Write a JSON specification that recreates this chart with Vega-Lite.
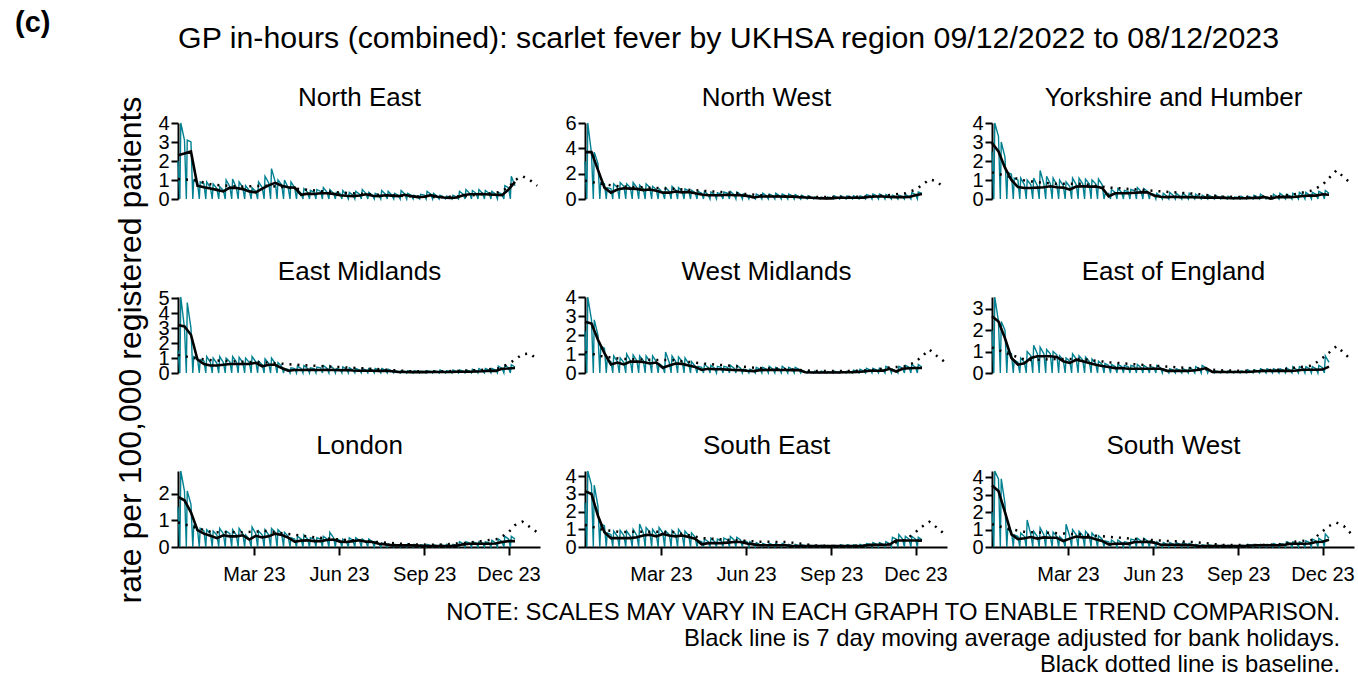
{"$schema":"https://vega.github.io/schema/vega-lite/v6.json","background":"white","padding":{"left":14,"top":8,"right":0,"bottom":0},
"config":{"view":{"stroke":null,"continuousWidth":362,"continuousHeight":76},"font":"Liberation Sans",
"axis":{"grid":false,"domainColor":"black","domainWidth":2,"tickColor":"black","tickWidth":2,"labelColor":"black","labelFontSize":20,"labelFont":"Liberation Sans","labelFlush":false},
"axisX":{"tickSize":8,"labelPadding":9},
"axisY":{"tickSize":7,"labelPadding":2,"tickCount":4,"tickMinStep":1,"labelOverlap":false,"titleAngle":0,"titleX":181,"titleY":-18,"titleAlign":"center","titleBaseline":"alphabetic","titleFontSize":26,"titleFontWeight":"normal","titleColor":"black","titleFont":"Liberation Sans"},
"title":{"color":"black","font":"Liberation Sans","fontWeight":"normal"}},
"data":{"format":{"parse":{"d":"date:'%y%m%d'"}},"values":[
{"r":"NE","d":"221209","v":2.0,"m":2.3},
{"r":"NE","d":"221211","v":0},{"r":"NE","d":"221212","v":4.0},{"r":"NE","d":"221216","v":3.1,"m":2.4},
{"r":"NE","d":"221218","v":0},{"r":"NE","d":"221219","v":3.1},{"r":"NE","d":"221223","v":3.0,"m":2.5},
{"r":"NE","d":"221225","v":0},{"r":"NE","d":"221226","v":1.0},{"r":"NE","d":"221230","v":0.9,"m":0.7},
{"r":"NE","d":"230101","v":0},{"r":"NE","d":"230102","v":0.9},{"r":"NE","d":"230106","v":0.8,"m":0.62},
{"r":"NE","d":"230108","v":0},{"r":"NE","d":"230109","v":0.9},{"r":"NE","d":"230113","v":0.6,"m":0.55},
{"r":"NE","d":"230115","v":0},{"r":"NE","d":"230116","v":0.8},{"r":"NE","d":"230120","v":0.55,"m":0.48},
{"r":"NE","d":"230122","v":0},{"r":"NE","d":"230123","v":0.65},{"r":"NE","d":"230127","v":0.45,"m":0.4},
{"r":"NE","d":"230129","v":0},{"r":"NE","d":"230130","v":1.0},{"r":"NE","d":"230203","v":0.65,"m":0.6},
{"r":"NE","d":"230205","v":0},{"r":"NE","d":"230206","v":1.05},{"r":"NE","d":"230210","v":0.6,"m":0.58},
{"r":"NE","d":"230212","v":0},{"r":"NE","d":"230213","v":0.9},{"r":"NE","d":"230217","v":0.6,"m":0.52},
{"r":"NE","d":"230219","v":0},{"r":"NE","d":"230220","v":0.7},{"r":"NE","d":"230224","v":0.45,"m":0.4},
{"r":"NE","d":"230226","v":0},{"r":"NE","d":"230227","v":0.6},{"r":"NE","d":"230303","v":0.4,"m":0.35},
{"r":"NE","d":"230305","v":0},{"r":"NE","d":"230306","v":0.9},{"r":"NE","d":"230310","v":0.6,"m":0.55},
{"r":"NE","d":"230312","v":0},{"r":"NE","d":"230313","v":1.2},{"r":"NE","d":"230317","v":0.85,"m":0.72},
{"r":"NE","d":"230319","v":0},{"r":"NE","d":"230320","v":1.6},{"r":"NE","d":"230324","v":0.9,"m":0.85},
{"r":"NE","d":"230326","v":0},{"r":"NE","d":"230327","v":1.0},{"r":"NE","d":"230331","v":0.75,"m":0.7},
{"r":"NE","d":"230402","v":0},{"r":"NE","d":"230403","v":1.0},{"r":"NE","d":"230407","v":0.6,"m":0.62},
{"r":"NE","d":"230409","v":0},{"r":"NE","d":"230410","v":0.9},{"r":"NE","d":"230414","v":0.6,"m":0.6},
{"r":"NE","d":"230416","v":0},{"r":"NE","d":"230417","v":0.5},{"r":"NE","d":"230421","v":0.3,"m":0.22},
{"r":"NE","d":"230423","v":0},{"r":"NE","d":"230424","v":0.55},{"r":"NE","d":"230428","v":0.35,"m":0.28},
{"r":"NE","d":"230430","v":0},{"r":"NE","d":"230501","v":0.45},{"r":"NE","d":"230505","v":0.35,"m":0.26},
{"r":"NE","d":"230507","v":0},{"r":"NE","d":"230508","v":0.5},{"r":"NE","d":"230512","v":0.4,"m":0.3},
{"r":"NE","d":"230514","v":0},{"r":"NE","d":"230515","v":0.6},{"r":"NE","d":"230519","v":0.35,"m":0.3},
{"r":"NE","d":"230521","v":0},{"r":"NE","d":"230522","v":0.5},{"r":"NE","d":"230526","v":0.3,"m":0.27},
{"r":"NE","d":"230528","v":0},{"r":"NE","d":"230529","v":0.35},{"r":"NE","d":"230602","v":0.3,"m":0.2},
{"r":"NE","d":"230604","v":0},{"r":"NE","d":"230605","v":0.45},{"r":"NE","d":"230609","v":0.2,"m":0.17},
{"r":"NE","d":"230611","v":0},{"r":"NE","d":"230612","v":0.35},{"r":"NE","d":"230616","v":0.2,"m":0.15},
{"r":"NE","d":"230618","v":0},{"r":"NE","d":"230619","v":0.4},{"r":"NE","d":"230623","v":0.25,"m":0.18},
{"r":"NE","d":"230625","v":0},{"r":"NE","d":"230626","v":0.5},{"r":"NE","d":"230630","v":0.3,"m":0.25},
{"r":"NE","d":"230702","v":0},{"r":"NE","d":"230703","v":0.35},{"r":"NE","d":"230707","v":0.2,"m":0.17},
{"r":"NE","d":"230709","v":0},{"r":"NE","d":"230710","v":0.3},{"r":"NE","d":"230714","v":0.2,"m":0.15},
{"r":"NE","d":"230716","v":0},{"r":"NE","d":"230717","v":0.45},{"r":"NE","d":"230721","v":0.25,"m":0.2},
{"r":"NE","d":"230723","v":0},{"r":"NE","d":"230724","v":0.4},{"r":"NE","d":"230728","v":0.2,"m":0.18},
{"r":"NE","d":"230730","v":0},{"r":"NE","d":"230731","v":0.3},{"r":"NE","d":"230804","v":0.2,"m":0.15},
{"r":"NE","d":"230806","v":0},{"r":"NE","d":"230807","v":0.45},{"r":"NE","d":"230811","v":0.25,"m":0.22},
{"r":"NE","d":"230813","v":0},{"r":"NE","d":"230814","v":0.3},{"r":"NE","d":"230818","v":0.2,"m":0.15},
{"r":"NE","d":"230820","v":0},{"r":"NE","d":"230821","v":0.2},{"r":"NE","d":"230825","v":0.1,"m":0.1},
{"r":"NE","d":"230827","v":0},{"r":"NE","d":"230828","v":0.25},{"r":"NE","d":"230901","v":0.2,"m":0.12},
{"r":"NE","d":"230903","v":0},{"r":"NE","d":"230904","v":0.4},{"r":"NE","d":"230908","v":0.25,"m":0.2},
{"r":"NE","d":"230910","v":0},{"r":"NE","d":"230911","v":0.3},{"r":"NE","d":"230915","v":0.15,"m":0.12},
{"r":"NE","d":"230917","v":0},{"r":"NE","d":"230918","v":0.2},{"r":"NE","d":"230922","v":0.1,"m":0.08},
{"r":"NE","d":"230924","v":0},{"r":"NE","d":"230925","v":0.15},{"r":"NE","d":"230929","v":0.1,"m":0.06},
{"r":"NE","d":"231001","v":0},{"r":"NE","d":"231002","v":0.2},{"r":"NE","d":"231006","v":0.1,"m":0.08},
{"r":"NE","d":"231008","v":0},{"r":"NE","d":"231009","v":0.4},{"r":"NE","d":"231013","v":0.25,"m":0.2},
{"r":"NE","d":"231015","v":0},{"r":"NE","d":"231016","v":0.5},{"r":"NE","d":"231020","v":0.3,"m":0.25},
{"r":"NE","d":"231022","v":0},{"r":"NE","d":"231023","v":0.45},{"r":"NE","d":"231027","v":0.3,"m":0.25},
{"r":"NE","d":"231029","v":0},{"r":"NE","d":"231030","v":0.5},{"r":"NE","d":"231103","v":0.3,"m":0.26},
{"r":"NE","d":"231105","v":0},{"r":"NE","d":"231106","v":0.45},{"r":"NE","d":"231110","v":0.3,"m":0.24},
{"r":"NE","d":"231112","v":0},{"r":"NE","d":"231113","v":0.4},{"r":"NE","d":"231117","v":0.25,"m":0.22},
{"r":"NE","d":"231119","v":0},{"r":"NE","d":"231120","v":0.35},{"r":"NE","d":"231124","v":0.25,"m":0.2},
{"r":"NE","d":"231126","v":0},{"r":"NE","d":"231127","v":0.7},{"r":"NE","d":"231201","v":0.6,"m":0.5},
{"r":"NE","d":"231203","v":0},{"r":"NE","d":"231204","v":1.2},{"r":"NE","d":"231208","v":0.7,"m":0.9},
{"r":"NW","d":"221209","v":3.0,"m":3.7},
{"r":"NW","d":"221211","v":0},{"r":"NW","d":"221212","v":6.0},{"r":"NW","d":"221216","v":3.6,"m":3.7},
{"r":"NW","d":"221218","v":0},{"r":"NW","d":"221219","v":3.7},{"r":"NW","d":"221223","v":2.8,"m":2.3},
{"r":"NW","d":"221225","v":0},{"r":"NW","d":"221226","v":1.3},{"r":"NW","d":"221230","v":1.2,"m":0.9},
{"r":"NW","d":"230101","v":0},{"r":"NW","d":"230102","v":0.9},{"r":"NW","d":"230106","v":0.8,"m":0.5},
{"r":"NW","d":"230108","v":0},{"r":"NW","d":"230109","v":1.2},{"r":"NW","d":"230113","v":0.9,"m":0.75},
{"r":"NW","d":"230115","v":0},{"r":"NW","d":"230116","v":1.3},{"r":"NW","d":"230120","v":1.0,"m":0.85},
{"r":"NW","d":"230122","v":0},{"r":"NW","d":"230123","v":1.2},{"r":"NW","d":"230127","v":0.9,"m":0.82},
{"r":"NW","d":"230129","v":0},{"r":"NW","d":"230130","v":1.3},{"r":"NW","d":"230203","v":0.9,"m":0.8},
{"r":"NW","d":"230205","v":0},{"r":"NW","d":"230206","v":1.1},{"r":"NW","d":"230210","v":0.8,"m":0.7},
{"r":"NW","d":"230212","v":0},{"r":"NW","d":"230213","v":1.2},{"r":"NW","d":"230217","v":0.9,"m":0.75},
{"r":"NW","d":"230219","v":0},{"r":"NW","d":"230220","v":1.0},{"r":"NW","d":"230224","v":0.75,"m":0.65},
{"r":"NW","d":"230226","v":0},{"r":"NW","d":"230227","v":0.8},{"r":"NW","d":"230303","v":0.5,"m":0.5},
{"r":"NW","d":"230305","v":0},{"r":"NW","d":"230306","v":0.9},{"r":"NW","d":"230310","v":0.6,"m":0.5},
{"r":"NW","d":"230312","v":0},{"r":"NW","d":"230313","v":1.0},{"r":"NW","d":"230317","v":0.7,"m":0.6},
{"r":"NW","d":"230319","v":0},{"r":"NW","d":"230320","v":0.9},{"r":"NW","d":"230324","v":0.6,"m":0.52},
{"r":"NW","d":"230326","v":0},{"r":"NW","d":"230327","v":0.8},{"r":"NW","d":"230331","v":0.65,"m":0.55},
{"r":"NW","d":"230402","v":0},{"r":"NW","d":"230403","v":0.7},{"r":"NW","d":"230407","v":0.5,"m":0.45},
{"r":"NW","d":"230409","v":0},{"r":"NW","d":"230410","v":0.6},{"r":"NW","d":"230414","v":0.45,"m":0.35},
{"r":"NW","d":"230416","v":0},{"r":"NW","d":"230417","v":0.6},{"r":"NW","d":"230421","v":0.35,"m":0.3},
{"r":"NW","d":"230423","v":0},{"r":"NW","d":"230424","v":0.55},{"r":"NW","d":"230428","v":0.35,"m":0.3},
{"r":"NW","d":"230430","v":0},{"r":"NW","d":"230501","v":0.5},{"r":"NW","d":"230505","v":0.4,"m":0.3},
{"r":"NW","d":"230507","v":0},{"r":"NW","d":"230508","v":0.55},{"r":"NW","d":"230512","v":0.45,"m":0.33},
{"r":"NW","d":"230514","v":0},{"r":"NW","d":"230515","v":0.6},{"r":"NW","d":"230519","v":0.35,"m":0.3},
{"r":"NW","d":"230521","v":0},{"r":"NW","d":"230522","v":0.55},{"r":"NW","d":"230526","v":0.35,"m":0.3},
{"r":"NW","d":"230528","v":0},{"r":"NW","d":"230529","v":0.4},{"r":"NW","d":"230602","v":0.3,"m":0.25},
{"r":"NW","d":"230604","v":0},{"r":"NW","d":"230605","v":0.3},{"r":"NW","d":"230609","v":0.15,"m":0.12},
{"r":"NW","d":"230611","v":0},{"r":"NW","d":"230612","v":0.4},{"r":"NW","d":"230616","v":0.25,"m":0.2},
{"r":"NW","d":"230618","v":0},{"r":"NW","d":"230619","v":0.45},{"r":"NW","d":"230623","v":0.25,"m":0.2},
{"r":"NW","d":"230625","v":0},{"r":"NW","d":"230626","v":0.4},{"r":"NW","d":"230630","v":0.25,"m":0.2},
{"r":"NW","d":"230702","v":0},{"r":"NW","d":"230703","v":0.45},{"r":"NW","d":"230707","v":0.25,"m":0.2},
{"r":"NW","d":"230709","v":0},{"r":"NW","d":"230710","v":0.4},{"r":"NW","d":"230714","v":0.25,"m":0.19},
{"r":"NW","d":"230716","v":0},{"r":"NW","d":"230717","v":0.4},{"r":"NW","d":"230721","v":0.25,"m":0.2},
{"r":"NW","d":"230723","v":0},{"r":"NW","d":"230724","v":0.35},{"r":"NW","d":"230728","v":0.2,"m":0.15},
{"r":"NW","d":"230730","v":0},{"r":"NW","d":"230731","v":0.3},{"r":"NW","d":"230804","v":0.15,"m":0.12},
{"r":"NW","d":"230806","v":0},{"r":"NW","d":"230807","v":0.25},{"r":"NW","d":"230811","v":0.12,"m":0.1},
{"r":"NW","d":"230813","v":0},{"r":"NW","d":"230814","v":0.15},{"r":"NW","d":"230818","v":0.08,"m":0.06},
{"r":"NW","d":"230820","v":0},{"r":"NW","d":"230821","v":0.15},{"r":"NW","d":"230825","v":0.08,"m":0.05},
{"r":"NW","d":"230827","v":0},{"r":"NW","d":"230828","v":0.15},{"r":"NW","d":"230901","v":0.1,"m":0.05},
{"r":"NW","d":"230903","v":0},{"r":"NW","d":"230904","v":0.25},{"r":"NW","d":"230908","v":0.12,"m":0.1},
{"r":"NW","d":"230910","v":0},{"r":"NW","d":"230911","v":0.25},{"r":"NW","d":"230915","v":0.12,"m":0.1},
{"r":"NW","d":"230917","v":0},{"r":"NW","d":"230918","v":0.25},{"r":"NW","d":"230922","v":0.15,"m":0.1},
{"r":"NW","d":"230924","v":0},{"r":"NW","d":"230925","v":0.25},{"r":"NW","d":"230929","v":0.12,"m":0.1},
{"r":"NW","d":"231001","v":0},{"r":"NW","d":"231002","v":0.25},{"r":"NW","d":"231006","v":0.15,"m":0.11},
{"r":"NW","d":"231008","v":0},{"r":"NW","d":"231009","v":0.35},{"r":"NW","d":"231013","v":0.25,"m":0.18},
{"r":"NW","d":"231015","v":0},{"r":"NW","d":"231016","v":0.4},{"r":"NW","d":"231020","v":0.25,"m":0.2},
{"r":"NW","d":"231022","v":0},{"r":"NW","d":"231023","v":0.4},{"r":"NW","d":"231027","v":0.25,"m":0.2},
{"r":"NW","d":"231029","v":0},{"r":"NW","d":"231030","v":0.35},{"r":"NW","d":"231103","v":0.2,"m":0.16},
{"r":"NW","d":"231105","v":0},{"r":"NW","d":"231106","v":0.3},{"r":"NW","d":"231110","v":0.2,"m":0.15},
{"r":"NW","d":"231112","v":0},{"r":"NW","d":"231113","v":0.3},{"r":"NW","d":"231117","v":0.2,"m":0.15},
{"r":"NW","d":"231119","v":0},{"r":"NW","d":"231120","v":0.35},{"r":"NW","d":"231124","v":0.2,"m":0.16},
{"r":"NW","d":"231126","v":0},{"r":"NW","d":"231127","v":0.5},{"r":"NW","d":"231201","v":0.35,"m":0.3},
{"r":"NW","d":"231203","v":0},{"r":"NW","d":"231204","v":0.55},{"r":"NW","d":"231208","v":0.45,"m":0.4},
{"r":"YH","d":"221209","v":2.5,"m":2.95},
{"r":"YH","d":"221211","v":0},{"r":"YH","d":"221212","v":4.0},{"r":"YH","d":"221216","v":3.3,"m":2.5},
{"r":"YH","d":"221218","v":0},{"r":"YH","d":"221219","v":3.0},{"r":"YH","d":"221223","v":2.2,"m":1.65},
{"r":"YH","d":"221225","v":0},{"r":"YH","d":"221226","v":1.4},{"r":"YH","d":"221230","v":1.3,"m":1.0},
{"r":"YH","d":"230101","v":0},{"r":"YH","d":"230102","v":1.1},{"r":"YH","d":"230106","v":1.0,"m":0.63},
{"r":"YH","d":"230108","v":0},{"r":"YH","d":"230109","v":1.1},{"r":"YH","d":"230113","v":0.75,"m":0.58},
{"r":"YH","d":"230115","v":0},{"r":"YH","d":"230116","v":1.0},{"r":"YH","d":"230120","v":0.75,"m":0.58},
{"r":"YH","d":"230122","v":0},{"r":"YH","d":"230123","v":1.1},{"r":"YH","d":"230127","v":0.7,"m":0.6},
{"r":"YH","d":"230129","v":0},{"r":"YH","d":"230130","v":1.5},{"r":"YH","d":"230203","v":0.8,"m":0.62},
{"r":"YH","d":"230205","v":0},{"r":"YH","d":"230206","v":1.2},{"r":"YH","d":"230210","v":0.8,"m":0.67},
{"r":"YH","d":"230212","v":0},{"r":"YH","d":"230213","v":1.1},{"r":"YH","d":"230217","v":0.75,"m":0.62},
{"r":"YH","d":"230219","v":0},{"r":"YH","d":"230220","v":1.0},{"r":"YH","d":"230224","v":0.7,"m":0.6},
{"r":"YH","d":"230226","v":0},{"r":"YH","d":"230227","v":0.9},{"r":"YH","d":"230303","v":0.65,"m":0.5},
{"r":"YH","d":"230305","v":0},{"r":"YH","d":"230306","v":1.1},{"r":"YH","d":"230310","v":0.75,"m":0.65},
{"r":"YH","d":"230312","v":0},{"r":"YH","d":"230313","v":1.1},{"r":"YH","d":"230317","v":0.8,"m":0.67},
{"r":"YH","d":"230319","v":0},{"r":"YH","d":"230320","v":1.05},{"r":"YH","d":"230324","v":0.8,"m":0.65},
{"r":"YH","d":"230326","v":0},{"r":"YH","d":"230327","v":1.0},{"r":"YH","d":"230331","v":0.8,"m":0.66},
{"r":"YH","d":"230402","v":0},{"r":"YH","d":"230403","v":1.05},{"r":"YH","d":"230407","v":0.75,"m":0.58},
{"r":"YH","d":"230409","v":0},{"r":"YH","d":"230410","v":0.25},{"r":"YH","d":"230414","v":0.3,"m":0.14},
{"r":"YH","d":"230416","v":0},{"r":"YH","d":"230417","v":0.5},{"r":"YH","d":"230421","v":0.35,"m":0.3},
{"r":"YH","d":"230423","v":0},{"r":"YH","d":"230424","v":0.55},{"r":"YH","d":"230428","v":0.35,"m":0.3},
{"r":"YH","d":"230430","v":0},{"r":"YH","d":"230501","v":0.45},{"r":"YH","d":"230505","v":0.4,"m":0.3},
{"r":"YH","d":"230507","v":0},{"r":"YH","d":"230508","v":0.5},{"r":"YH","d":"230512","v":0.45,"m":0.33},
{"r":"YH","d":"230514","v":0},{"r":"YH","d":"230515","v":0.6},{"r":"YH","d":"230519","v":0.4,"m":0.35},
{"r":"YH","d":"230521","v":0},{"r":"YH","d":"230522","v":0.55},{"r":"YH","d":"230526","v":0.4,"m":0.35},
{"r":"YH","d":"230528","v":0},{"r":"YH","d":"230529","v":0.3},{"r":"YH","d":"230602","v":0.25,"m":0.18},
{"r":"YH","d":"230604","v":0},{"r":"YH","d":"230605","v":0.3},{"r":"YH","d":"230609","v":0.15,"m":0.12},
{"r":"YH","d":"230611","v":0},{"r":"YH","d":"230612","v":0.3},{"r":"YH","d":"230616","v":0.15,"m":0.1},
{"r":"YH","d":"230618","v":0},{"r":"YH","d":"230619","v":0.35},{"r":"YH","d":"230623","v":0.18,"m":0.12},
{"r":"YH","d":"230625","v":0},{"r":"YH","d":"230626","v":0.3},{"r":"YH","d":"230630","v":0.15,"m":0.1},
{"r":"YH","d":"230702","v":0},{"r":"YH","d":"230703","v":0.3},{"r":"YH","d":"230707","v":0.15,"m":0.1},
{"r":"YH","d":"230709","v":0},{"r":"YH","d":"230710","v":0.3},{"r":"YH","d":"230714","v":0.15,"m":0.1},
{"r":"YH","d":"230716","v":0},{"r":"YH","d":"230717","v":0.25},{"r":"YH","d":"230721","v":0.12,"m":0.08},
{"r":"YH","d":"230723","v":0},{"r":"YH","d":"230724","v":0.2},{"r":"YH","d":"230728","v":0.1,"m":0.07},
{"r":"YH","d":"230730","v":0},{"r":"YH","d":"230731","v":0.2},{"r":"YH","d":"230804","v":0.1,"m":0.07},
{"r":"YH","d":"230806","v":0},{"r":"YH","d":"230807","v":0.2},{"r":"YH","d":"230811","v":0.1,"m":0.07},
{"r":"YH","d":"230813","v":0},{"r":"YH","d":"230814","v":0.15},{"r":"YH","d":"230818","v":0.08,"m":0.06},
{"r":"YH","d":"230820","v":0},{"r":"YH","d":"230821","v":0.15},{"r":"YH","d":"230825","v":0.06,"m":0.04},
{"r":"YH","d":"230827","v":0},{"r":"YH","d":"230828","v":0.1},{"r":"YH","d":"230901","v":0.08,"m":0.04},
{"r":"YH","d":"230903","v":0},{"r":"YH","d":"230904","v":0.15},{"r":"YH","d":"230908","v":0.06,"m":0.04},
{"r":"YH","d":"230910","v":0},{"r":"YH","d":"230911","v":0.15},{"r":"YH","d":"230915","v":0.08,"m":0.05},
{"r":"YH","d":"230917","v":0},{"r":"YH","d":"230918","v":0.2},{"r":"YH","d":"230922","v":0.1,"m":0.06},
{"r":"YH","d":"230924","v":0},{"r":"YH","d":"230925","v":0.25},{"r":"YH","d":"230929","v":0.12,"m":0.1},
{"r":"YH","d":"231001","v":0},{"r":"YH","d":"231002","v":0.1},{"r":"YH","d":"231006","v":0.05,"m":0.02},
{"r":"YH","d":"231008","v":0},{"r":"YH","d":"231009","v":0.25},{"r":"YH","d":"231013","v":0.12,"m":0.1},
{"r":"YH","d":"231015","v":0},{"r":"YH","d":"231016","v":0.3},{"r":"YH","d":"231020","v":0.15,"m":0.11},
{"r":"YH","d":"231022","v":0},{"r":"YH","d":"231023","v":0.25},{"r":"YH","d":"231027","v":0.15,"m":0.1},
{"r":"YH","d":"231029","v":0},{"r":"YH","d":"231030","v":0.3},{"r":"YH","d":"231103","v":0.15,"m":0.12},
{"r":"YH","d":"231105","v":0},{"r":"YH","d":"231106","v":0.35},{"r":"YH","d":"231110","v":0.2,"m":0.16},
{"r":"YH","d":"231112","v":0},{"r":"YH","d":"231113","v":0.35},{"r":"YH","d":"231117","v":0.2,"m":0.18},
{"r":"YH","d":"231119","v":0},{"r":"YH","d":"231120","v":0.35},{"r":"YH","d":"231124","v":0.25,"m":0.18},
{"r":"YH","d":"231126","v":0},{"r":"YH","d":"231127","v":0.4},{"r":"YH","d":"231201","v":0.3,"m":0.25},
{"r":"YH","d":"231203","v":0},{"r":"YH","d":"231204","v":0.45},{"r":"YH","d":"231208","v":0.3,"m":0.22},
{"r":"EM","d":"221209","v":1.5,"m":3.2},
{"r":"EM","d":"221211","v":0},{"r":"EM","d":"221212","v":5.07},{"r":"EM","d":"221216","v":3.0,"m":3.1},
{"r":"EM","d":"221218","v":0},{"r":"EM","d":"221219","v":4.7},{"r":"EM","d":"221223","v":3.0,"m":2.55},
{"r":"EM","d":"221225","v":0},{"r":"EM","d":"221226","v":1.1},{"r":"EM","d":"221230","v":1.0,"m":0.9},
{"r":"EM","d":"230101","v":0},{"r":"EM","d":"230102","v":0.9},{"r":"EM","d":"230106","v":0.8,"m":0.6},
{"r":"EM","d":"230108","v":0},{"r":"EM","d":"230109","v":1.1},{"r":"EM","d":"230113","v":0.7,"m":0.5},
{"r":"EM","d":"230115","v":0},{"r":"EM","d":"230116","v":1.0},{"r":"EM","d":"230120","v":0.65,"m":0.5},
{"r":"EM","d":"230122","v":0},{"r":"EM","d":"230123","v":1.1},{"r":"EM","d":"230127","v":0.7,"m":0.55},
{"r":"EM","d":"230129","v":0},{"r":"EM","d":"230130","v":1.0},{"r":"EM","d":"230203","v":0.75,"m":0.6},
{"r":"EM","d":"230205","v":0},{"r":"EM","d":"230206","v":1.1},{"r":"EM","d":"230210","v":0.75,"m":0.6},
{"r":"EM","d":"230212","v":0},{"r":"EM","d":"230213","v":1.05},{"r":"EM","d":"230217","v":0.7,"m":0.6},
{"r":"EM","d":"230219","v":0},{"r":"EM","d":"230220","v":1.0},{"r":"EM","d":"230224","v":0.7,"m":0.6},
{"r":"EM","d":"230226","v":0},{"r":"EM","d":"230227","v":1.1},{"r":"EM","d":"230303","v":0.75,"m":0.68},
{"r":"EM","d":"230305","v":0},{"r":"EM","d":"230306","v":0.8},{"r":"EM","d":"230310","v":0.55,"m":0.45},
{"r":"EM","d":"230312","v":0},{"r":"EM","d":"230313","v":0.95},{"r":"EM","d":"230317","v":0.65,"m":0.55},
{"r":"EM","d":"230319","v":0},{"r":"EM","d":"230320","v":1.0},{"r":"EM","d":"230324","v":0.65,"m":0.55},
{"r":"EM","d":"230326","v":0},{"r":"EM","d":"230327","v":0.7},{"r":"EM","d":"230331","v":0.45,"m":0.33},
{"r":"EM","d":"230402","v":0},{"r":"EM","d":"230403","v":0.3},{"r":"EM","d":"230407","v":0.25,"m":0.15},
{"r":"EM","d":"230409","v":0},{"r":"EM","d":"230410","v":0.35},{"r":"EM","d":"230414","v":0.3,"m":0.2},
{"r":"EM","d":"230416","v":0},{"r":"EM","d":"230417","v":0.45},{"r":"EM","d":"230421","v":0.3,"m":0.2},
{"r":"EM","d":"230423","v":0},{"r":"EM","d":"230424","v":0.5},{"r":"EM","d":"230428","v":0.3,"m":0.22},
{"r":"EM","d":"230430","v":0},{"r":"EM","d":"230501","v":0.35},{"r":"EM","d":"230505","v":0.3,"m":0.2},
{"r":"EM","d":"230507","v":0},{"r":"EM","d":"230508","v":0.4},{"r":"EM","d":"230512","v":0.35,"m":0.2},
{"r":"EM","d":"230514","v":0},{"r":"EM","d":"230515","v":0.5},{"r":"EM","d":"230519","v":0.3,"m":0.22},
{"r":"EM","d":"230521","v":0},{"r":"EM","d":"230522","v":0.5},{"r":"EM","d":"230526","v":0.3,"m":0.2},
{"r":"EM","d":"230528","v":0},{"r":"EM","d":"230529","v":0.3},{"r":"EM","d":"230602","v":0.25,"m":0.18},
{"r":"EM","d":"230604","v":0},{"r":"EM","d":"230605","v":0.4},{"r":"EM","d":"230609","v":0.25,"m":0.2},
{"r":"EM","d":"230611","v":0},{"r":"EM","d":"230612","v":0.35},{"r":"EM","d":"230616","v":0.2,"m":0.17},
{"r":"EM","d":"230618","v":0},{"r":"EM","d":"230619","v":0.3},{"r":"EM","d":"230623","v":0.2,"m":0.15},
{"r":"EM","d":"230625","v":0},{"r":"EM","d":"230626","v":0.3},{"r":"EM","d":"230630","v":0.2,"m":0.15},
{"r":"EM","d":"230702","v":0},{"r":"EM","d":"230703","v":0.3},{"r":"EM","d":"230707","v":0.2,"m":0.15},
{"r":"EM","d":"230709","v":0},{"r":"EM","d":"230710","v":0.3},{"r":"EM","d":"230714","v":0.2,"m":0.14},
{"r":"EM","d":"230716","v":0},{"r":"EM","d":"230717","v":0.3},{"r":"EM","d":"230721","v":0.2,"m":0.15},
{"r":"EM","d":"230723","v":0},{"r":"EM","d":"230724","v":0.25},{"r":"EM","d":"230728","v":0.15,"m":0.12},
{"r":"EM","d":"230730","v":0},{"r":"EM","d":"230731","v":0.15},{"r":"EM","d":"230804","v":0.1,"m":0.07},
{"r":"EM","d":"230806","v":0},{"r":"EM","d":"230807","v":0.15},{"r":"EM","d":"230811","v":0.1,"m":0.07},
{"r":"EM","d":"230813","v":0},{"r":"EM","d":"230814","v":0.15},{"r":"EM","d":"230818","v":0.1,"m":0.06},
{"r":"EM","d":"230820","v":0},{"r":"EM","d":"230821","v":0.15},{"r":"EM","d":"230825","v":0.1,"m":0.06},
{"r":"EM","d":"230827","v":0},{"r":"EM","d":"230828","v":0.12},{"r":"EM","d":"230901","v":0.1,"m":0.06},
{"r":"EM","d":"230903","v":0},{"r":"EM","d":"230904","v":0.15},{"r":"EM","d":"230908","v":0.1,"m":0.07},
{"r":"EM","d":"230910","v":0},{"r":"EM","d":"230911","v":0.15},{"r":"EM","d":"230915","v":0.1,"m":0.07},
{"r":"EM","d":"230917","v":0},{"r":"EM","d":"230918","v":0.2},{"r":"EM","d":"230922","v":0.1,"m":0.07},
{"r":"EM","d":"230924","v":0},{"r":"EM","d":"230925","v":0.15},{"r":"EM","d":"230929","v":0.1,"m":0.07},
{"r":"EM","d":"231001","v":0},{"r":"EM","d":"231002","v":0.2},{"r":"EM","d":"231006","v":0.1,"m":0.08},
{"r":"EM","d":"231008","v":0},{"r":"EM","d":"231009","v":0.2},{"r":"EM","d":"231013","v":0.12,"m":0.08},
{"r":"EM","d":"231015","v":0},{"r":"EM","d":"231016","v":0.2},{"r":"EM","d":"231020","v":0.12,"m":0.08},
{"r":"EM","d":"231022","v":0},{"r":"EM","d":"231023","v":0.25},{"r":"EM","d":"231027","v":0.15,"m":0.1},
{"r":"EM","d":"231029","v":0},{"r":"EM","d":"231030","v":0.3},{"r":"EM","d":"231103","v":0.15,"m":0.12},
{"r":"EM","d":"231105","v":0},{"r":"EM","d":"231106","v":0.3},{"r":"EM","d":"231110","v":0.2,"m":0.15},
{"r":"EM","d":"231112","v":0},{"r":"EM","d":"231113","v":0.3},{"r":"EM","d":"231117","v":0.2,"m":0.14},
{"r":"EM","d":"231119","v":0},{"r":"EM","d":"231120","v":0.45},{"r":"EM","d":"231124","v":0.3,"m":0.28},
{"r":"EM","d":"231126","v":0},{"r":"EM","d":"231127","v":0.5},{"r":"EM","d":"231201","v":0.35,"m":0.3},
{"r":"EM","d":"231203","v":0},{"r":"EM","d":"231204","v":0.55},{"r":"EM","d":"231208","v":0.4,"m":0.33},
{"r":"WM","d":"221209","v":2.2,"m":2.7},
{"r":"WM","d":"221211","v":0},{"r":"WM","d":"221212","v":4.0},{"r":"WM","d":"221216","v":2.8,"m":2.6},
{"r":"WM","d":"221218","v":0},{"r":"WM","d":"221219","v":2.8},{"r":"WM","d":"221223","v":2.0,"m":1.75},
{"r":"WM","d":"221225","v":0},{"r":"WM","d":"221226","v":1.4},{"r":"WM","d":"221230","v":1.3,"m":1.05},
{"r":"WM","d":"230101","v":0},{"r":"WM","d":"230102","v":0.7},{"r":"WM","d":"230106","v":0.6,"m":0.45},
{"r":"WM","d":"230108","v":0},{"r":"WM","d":"230109","v":0.9},{"r":"WM","d":"230113","v":0.6,"m":0.55},
{"r":"WM","d":"230115","v":0},{"r":"WM","d":"230116","v":0.8},{"r":"WM","d":"230120","v":0.55,"m":0.45},
{"r":"WM","d":"230122","v":0},{"r":"WM","d":"230123","v":1.0},{"r":"WM","d":"230127","v":0.65,"m":0.6},
{"r":"WM","d":"230129","v":0},{"r":"WM","d":"230130","v":0.95},{"r":"WM","d":"230203","v":0.65,"m":0.6},
{"r":"WM","d":"230205","v":0},{"r":"WM","d":"230206","v":0.9},{"r":"WM","d":"230210","v":0.65,"m":0.58},
{"r":"WM","d":"230212","v":0},{"r":"WM","d":"230213","v":0.9},{"r":"WM","d":"230217","v":0.6,"m":0.5},
{"r":"WM","d":"230219","v":0},{"r":"WM","d":"230220","v":0.9},{"r":"WM","d":"230224","v":0.6,"m":0.55},
{"r":"WM","d":"230226","v":0},{"r":"WM","d":"230227","v":0.5},{"r":"WM","d":"230303","v":0.35,"m":0.28},
{"r":"WM","d":"230305","v":0},{"r":"WM","d":"230306","v":1.1},{"r":"WM","d":"230310","v":0.55,"m":0.4},
{"r":"WM","d":"230312","v":0},{"r":"WM","d":"230313","v":0.9},{"r":"WM","d":"230317","v":0.6,"m":0.5},
{"r":"WM","d":"230319","v":0},{"r":"WM","d":"230320","v":0.85},{"r":"WM","d":"230324","v":0.6,"m":0.48},
{"r":"WM","d":"230326","v":0},{"r":"WM","d":"230327","v":0.8},{"r":"WM","d":"230331","v":0.5,"m":0.4},
{"r":"WM","d":"230402","v":0},{"r":"WM","d":"230403","v":0.6},{"r":"WM","d":"230407","v":0.35,"m":0.32},
{"r":"WM","d":"230409","v":0},{"r":"WM","d":"230410","v":0.35},{"r":"WM","d":"230414","v":0.3,"m":0.16},
{"r":"WM","d":"230416","v":0},{"r":"WM","d":"230417","v":0.45},{"r":"WM","d":"230421","v":0.3,"m":0.22},
{"r":"WM","d":"230423","v":0},{"r":"WM","d":"230424","v":0.4},{"r":"WM","d":"230428","v":0.25,"m":0.2},
{"r":"WM","d":"230430","v":0},{"r":"WM","d":"230501","v":0.35},{"r":"WM","d":"230505","v":0.3,"m":0.2},
{"r":"WM","d":"230507","v":0},{"r":"WM","d":"230508","v":0.35},{"r":"WM","d":"230512","v":0.3,"m":0.18},
{"r":"WM","d":"230514","v":0},{"r":"WM","d":"230515","v":0.4},{"r":"WM","d":"230519","v":0.25,"m":0.16},
{"r":"WM","d":"230521","v":0},{"r":"WM","d":"230522","v":0.4},{"r":"WM","d":"230526","v":0.25,"m":0.15},
{"r":"WM","d":"230528","v":0},{"r":"WM","d":"230529","v":0.2},{"r":"WM","d":"230602","v":0.15,"m":0.12},
{"r":"WM","d":"230604","v":0},{"r":"WM","d":"230605","v":0.2},{"r":"WM","d":"230609","v":0.12,"m":0.1},
{"r":"WM","d":"230611","v":0},{"r":"WM","d":"230612","v":0.3},{"r":"WM","d":"230616","v":0.2,"m":0.15},
{"r":"WM","d":"230618","v":0},{"r":"WM","d":"230619","v":0.3},{"r":"WM","d":"230623","v":0.2,"m":0.16},
{"r":"WM","d":"230625","v":0},{"r":"WM","d":"230626","v":0.35},{"r":"WM","d":"230630","v":0.2,"m":0.17},
{"r":"WM","d":"230702","v":0},{"r":"WM","d":"230703","v":0.3},{"r":"WM","d":"230707","v":0.2,"m":0.16},
{"r":"WM","d":"230709","v":0},{"r":"WM","d":"230710","v":0.35},{"r":"WM","d":"230714","v":0.2,"m":0.16},
{"r":"WM","d":"230716","v":0},{"r":"WM","d":"230717","v":0.3},{"r":"WM","d":"230721","v":0.2,"m":0.15},
{"r":"WM","d":"230723","v":0},{"r":"WM","d":"230724","v":0.3},{"r":"WM","d":"230728","v":0.2,"m":0.16},
{"r":"WM","d":"230730","v":0},{"r":"WM","d":"230731","v":0.15},{"r":"WM","d":"230804","v":0.06,"m":0.04},
{"r":"WM","d":"230806","v":0},{"r":"WM","d":"230807","v":0.1},{"r":"WM","d":"230811","v":0.05,"m":0.03},
{"r":"WM","d":"230813","v":0},{"r":"WM","d":"230814","v":0.1},{"r":"WM","d":"230818","v":0.05,"m":0.03},
{"r":"WM","d":"230820","v":0},{"r":"WM","d":"230821","v":0.1},{"r":"WM","d":"230825","v":0.05,"m":0.03},
{"r":"WM","d":"230827","v":0},{"r":"WM","d":"230828","v":0.08},{"r":"WM","d":"230901","v":0.05,"m":0.03},
{"r":"WM","d":"230903","v":0},{"r":"WM","d":"230904","v":0.1},{"r":"WM","d":"230908","v":0.05,"m":0.03},
{"r":"WM","d":"230910","v":0},{"r":"WM","d":"230911","v":0.1},{"r":"WM","d":"230915","v":0.05,"m":0.04},
{"r":"WM","d":"230917","v":0},{"r":"WM","d":"230918","v":0.1},{"r":"WM","d":"230922","v":0.05,"m":0.04},
{"r":"WM","d":"230924","v":0},{"r":"WM","d":"230925","v":0.15},{"r":"WM","d":"230929","v":0.08,"m":0.06},
{"r":"WM","d":"231001","v":0},{"r":"WM","d":"231002","v":0.2},{"r":"WM","d":"231006","v":0.1,"m":0.08},
{"r":"WM","d":"231008","v":0},{"r":"WM","d":"231009","v":0.25},{"r":"WM","d":"231013","v":0.15,"m":0.12},
{"r":"WM","d":"231015","v":0},{"r":"WM","d":"231016","v":0.25},{"r":"WM","d":"231020","v":0.15,"m":0.12},
{"r":"WM","d":"231022","v":0},{"r":"WM","d":"231023","v":0.25},{"r":"WM","d":"231027","v":0.15,"m":0.12},
{"r":"WM","d":"231029","v":0},{"r":"WM","d":"231030","v":0.35},{"r":"WM","d":"231103","v":0.25,"m":0.22},
{"r":"WM","d":"231105","v":0},{"r":"WM","d":"231106","v":0.2},{"r":"WM","d":"231110","v":0.12,"m":0.08},
{"r":"WM","d":"231112","v":0},{"r":"WM","d":"231113","v":0.35},{"r":"WM","d":"231117","v":0.25,"m":0.22},
{"r":"WM","d":"231119","v":0},{"r":"WM","d":"231120","v":0.4},{"r":"WM","d":"231124","v":0.3,"m":0.25},
{"r":"WM","d":"231126","v":0},{"r":"WM","d":"231127","v":0.45},{"r":"WM","d":"231201","v":0.3,"m":0.26},
{"r":"WM","d":"231203","v":0},{"r":"WM","d":"231204","v":0.45},{"r":"WM","d":"231208","v":0.3,"m":0.26},
{"r":"EE","d":"221209","v":2.0,"m":2.65},
{"r":"EE","d":"221211","v":0},{"r":"EE","d":"221212","v":3.55},{"r":"EE","d":"221216","v":2.4,"m":2.4},
{"r":"EE","d":"221218","v":0},{"r":"EE","d":"221219","v":2.4},{"r":"EE","d":"221223","v":2.0,"m":1.63},
{"r":"EE","d":"221225","v":0},{"r":"EE","d":"221226","v":1.0},{"r":"EE","d":"221230","v":0.9,"m":0.7},
{"r":"EE","d":"230101","v":0},{"r":"EE","d":"230102","v":0.6},{"r":"EE","d":"230106","v":0.5,"m":0.39},
{"r":"EE","d":"230108","v":0},{"r":"EE","d":"230109","v":0.7},{"r":"EE","d":"230113","v":0.5,"m":0.45},
{"r":"EE","d":"230115","v":0},{"r":"EE","d":"230116","v":1.0},{"r":"EE","d":"230120","v":0.8,"m":0.7},
{"r":"EE","d":"230122","v":0},{"r":"EE","d":"230123","v":1.3},{"r":"EE","d":"230127","v":0.9,"m":0.78},
{"r":"EE","d":"230129","v":0},{"r":"EE","d":"230130","v":1.2},{"r":"EE","d":"230203","v":0.9,"m":0.78},
{"r":"EE","d":"230205","v":0},{"r":"EE","d":"230206","v":1.1},{"r":"EE","d":"230210","v":0.9,"m":0.78},
{"r":"EE","d":"230212","v":0},{"r":"EE","d":"230213","v":1.0},{"r":"EE","d":"230217","v":0.85,"m":0.75},
{"r":"EE","d":"230219","v":0},{"r":"EE","d":"230220","v":0.8},{"r":"EE","d":"230224","v":0.6,"m":0.55},
{"r":"EE","d":"230226","v":0},{"r":"EE","d":"230227","v":0.7},{"r":"EE","d":"230303","v":0.55,"m":0.47},
{"r":"EE","d":"230305","v":0},{"r":"EE","d":"230306","v":0.9},{"r":"EE","d":"230310","v":0.65,"m":0.62},
{"r":"EE","d":"230312","v":0},{"r":"EE","d":"230313","v":0.8},{"r":"EE","d":"230317","v":0.6,"m":0.55},
{"r":"EE","d":"230319","v":0},{"r":"EE","d":"230320","v":0.75},{"r":"EE","d":"230324","v":0.55,"m":0.47},
{"r":"EE","d":"230326","v":0},{"r":"EE","d":"230327","v":0.65},{"r":"EE","d":"230331","v":0.45,"m":0.39},
{"r":"EE","d":"230402","v":0},{"r":"EE","d":"230403","v":0.55},{"r":"EE","d":"230407","v":0.4,"m":0.33},
{"r":"EE","d":"230409","v":0},{"r":"EE","d":"230410","v":0.45},{"r":"EE","d":"230414","v":0.35,"m":0.28},
{"r":"EE","d":"230416","v":0},{"r":"EE","d":"230417","v":0.4},{"r":"EE","d":"230421","v":0.3,"m":0.23},
{"r":"EE","d":"230423","v":0},{"r":"EE","d":"230424","v":0.4},{"r":"EE","d":"230428","v":0.3,"m":0.23},
{"r":"EE","d":"230430","v":0},{"r":"EE","d":"230501","v":0.35},{"r":"EE","d":"230505","v":0.3,"m":0.2},
{"r":"EE","d":"230507","v":0},{"r":"EE","d":"230508","v":0.35},{"r":"EE","d":"230512","v":0.3,"m":0.2},
{"r":"EE","d":"230514","v":0},{"r":"EE","d":"230515","v":0.4},{"r":"EE","d":"230519","v":0.25,"m":0.2},
{"r":"EE","d":"230521","v":0},{"r":"EE","d":"230522","v":0.35},{"r":"EE","d":"230526","v":0.25,"m":0.2},
{"r":"EE","d":"230528","v":0},{"r":"EE","d":"230529","v":0.3},{"r":"EE","d":"230602","v":0.25,"m":0.2},
{"r":"EE","d":"230604","v":0},{"r":"EE","d":"230605","v":0.35},{"r":"EE","d":"230609","v":0.25,"m":0.2},
{"r":"EE","d":"230611","v":0},{"r":"EE","d":"230612","v":0.2},{"r":"EE","d":"230616","v":0.12,"m":0.1},
{"r":"EE","d":"230618","v":0},{"r":"EE","d":"230619","v":0.2},{"r":"EE","d":"230623","v":0.12,"m":0.1},
{"r":"EE","d":"230625","v":0},{"r":"EE","d":"230626","v":0.2},{"r":"EE","d":"230630","v":0.12,"m":0.1},
{"r":"EE","d":"230702","v":0},{"r":"EE","d":"230703","v":0.2},{"r":"EE","d":"230707","v":0.12,"m":0.1},
{"r":"EE","d":"230709","v":0},{"r":"EE","d":"230710","v":0.25},{"r":"EE","d":"230714","v":0.15,"m":0.12},
{"r":"EE","d":"230716","v":0},{"r":"EE","d":"230717","v":0.3},{"r":"EE","d":"230721","v":0.2,"m":0.15},
{"r":"EE","d":"230723","v":0},{"r":"EE","d":"230724","v":0.35},{"r":"EE","d":"230728","v":0.25,"m":0.23},
{"r":"EE","d":"230730","v":0},{"r":"EE","d":"230731","v":0.15},{"r":"EE","d":"230804","v":0.06,"m":0.05},
{"r":"EE","d":"230806","v":0},{"r":"EE","d":"230807","v":0.1},{"r":"EE","d":"230811","v":0.06,"m":0.05},
{"r":"EE","d":"230813","v":0},{"r":"EE","d":"230814","v":0.1},{"r":"EE","d":"230818","v":0.06,"m":0.05},
{"r":"EE","d":"230820","v":0},{"r":"EE","d":"230821","v":0.1},{"r":"EE","d":"230825","v":0.06,"m":0.05},
{"r":"EE","d":"230827","v":0},{"r":"EE","d":"230828","v":0.08},{"r":"EE","d":"230901","v":0.06,"m":0.05},
{"r":"EE","d":"230903","v":0},{"r":"EE","d":"230904","v":0.1},{"r":"EE","d":"230908","v":0.05,"m":0.05},
{"r":"EE","d":"230910","v":0},{"r":"EE","d":"230911","v":0.15},{"r":"EE","d":"230915","v":0.08,"m":0.06},
{"r":"EE","d":"230917","v":0},{"r":"EE","d":"230918","v":0.15},{"r":"EE","d":"230922","v":0.1,"m":0.08},
{"r":"EE","d":"230924","v":0},{"r":"EE","d":"230925","v":0.2},{"r":"EE","d":"230929","v":0.12,"m":0.1},
{"r":"EE","d":"231001","v":0},{"r":"EE","d":"231002","v":0.2},{"r":"EE","d":"231006","v":0.12,"m":0.1},
{"r":"EE","d":"231008","v":0},{"r":"EE","d":"231009","v":0.2},{"r":"EE","d":"231013","v":0.12,"m":0.1},
{"r":"EE","d":"231015","v":0},{"r":"EE","d":"231016","v":0.2},{"r":"EE","d":"231020","v":0.12,"m":0.1},
{"r":"EE","d":"231022","v":0},{"r":"EE","d":"231023","v":0.25},{"r":"EE","d":"231027","v":0.12,"m":0.1},
{"r":"EE","d":"231029","v":0},{"r":"EE","d":"231030","v":0.3},{"r":"EE","d":"231103","v":0.15,"m":0.12},
{"r":"EE","d":"231105","v":0},{"r":"EE","d":"231106","v":0.3},{"r":"EE","d":"231110","v":0.2,"m":0.15},
{"r":"EE","d":"231112","v":0},{"r":"EE","d":"231113","v":0.3},{"r":"EE","d":"231117","v":0.2,"m":0.15},
{"r":"EE","d":"231119","v":0},{"r":"EE","d":"231120","v":0.3},{"r":"EE","d":"231124","v":0.2,"m":0.15},
{"r":"EE","d":"231126","v":0},{"r":"EE","d":"231127","v":0.35},{"r":"EE","d":"231201","v":0.25,"m":0.16},
{"r":"EE","d":"231203","v":0},{"r":"EE","d":"231204","v":0.8},{"r":"EE","d":"231208","v":0.5,"m":0.3},
{"r":"L","d":"221209","v":1.5,"m":1.88},
{"r":"L","d":"221211","v":0},{"r":"L","d":"221212","v":2.85},{"r":"L","d":"221216","v":2.1,"m":1.75},
{"r":"L","d":"221218","v":0},{"r":"L","d":"221219","v":2.1},{"r":"L","d":"221223","v":1.6,"m":1.3},
{"r":"L","d":"221225","v":0},{"r":"L","d":"221226","v":0.8},{"r":"L","d":"221230","v":0.7,"m":0.63},
{"r":"L","d":"230101","v":0},{"r":"L","d":"230102","v":0.7},{"r":"L","d":"230106","v":0.6,"m":0.5},
{"r":"L","d":"230108","v":0},{"r":"L","d":"230109","v":0.65},{"r":"L","d":"230113","v":0.5,"m":0.42},
{"r":"L","d":"230115","v":0},{"r":"L","d":"230116","v":0.6},{"r":"L","d":"230120","v":0.45,"m":0.33},
{"r":"L","d":"230122","v":0},{"r":"L","d":"230123","v":0.7},{"r":"L","d":"230127","v":0.5,"m":0.44},
{"r":"L","d":"230129","v":0},{"r":"L","d":"230130","v":0.6},{"r":"L","d":"230203","v":0.5,"m":0.4},
{"r":"L","d":"230205","v":0},{"r":"L","d":"230206","v":0.65},{"r":"L","d":"230210","v":0.45,"m":0.4},
{"r":"L","d":"230212","v":0},{"r":"L","d":"230213","v":0.7},{"r":"L","d":"230217","v":0.5,"m":0.44},
{"r":"L","d":"230219","v":0},{"r":"L","d":"230220","v":0.45},{"r":"L","d":"230224","v":0.3,"m":0.28},
{"r":"L","d":"230226","v":0},{"r":"L","d":"230227","v":0.75},{"r":"L","d":"230303","v":0.5,"m":0.42},
{"r":"L","d":"230305","v":0},{"r":"L","d":"230306","v":0.6},{"r":"L","d":"230310","v":0.45,"m":0.36},
{"r":"L","d":"230312","v":0},{"r":"L","d":"230313","v":0.65},{"r":"L","d":"230317","v":0.45,"m":0.4},
{"r":"L","d":"230319","v":0},{"r":"L","d":"230320","v":0.7},{"r":"L","d":"230324","v":0.55,"m":0.5},
{"r":"L","d":"230326","v":0},{"r":"L","d":"230327","v":0.65},{"r":"L","d":"230331","v":0.5,"m":0.45},
{"r":"L","d":"230402","v":0},{"r":"L","d":"230403","v":0.55},{"r":"L","d":"230407","v":0.4,"m":0.35},
{"r":"L","d":"230409","v":0},{"r":"L","d":"230410","v":0.35},{"r":"L","d":"230414","v":0.3,"m":0.2},
{"r":"L","d":"230416","v":0},{"r":"L","d":"230417","v":0.4},{"r":"L","d":"230421","v":0.3,"m":0.24},
{"r":"L","d":"230423","v":0},{"r":"L","d":"230424","v":0.45},{"r":"L","d":"230428","v":0.3,"m":0.25},
{"r":"L","d":"230430","v":0},{"r":"L","d":"230501","v":0.35},{"r":"L","d":"230505","v":0.3,"m":0.22},
{"r":"L","d":"230507","v":0},{"r":"L","d":"230508","v":0.35},{"r":"L","d":"230512","v":0.3,"m":0.22},
{"r":"L","d":"230514","v":0},{"r":"L","d":"230515","v":0.4},{"r":"L","d":"230519","v":0.3,"m":0.26},
{"r":"L","d":"230521","v":0},{"r":"L","d":"230522","v":0.55},{"r":"L","d":"230526","v":0.35,"m":0.28},
{"r":"L","d":"230528","v":0},{"r":"L","d":"230529","v":0.3},{"r":"L","d":"230602","v":0.25,"m":0.2},
{"r":"L","d":"230604","v":0},{"r":"L","d":"230605","v":0.3},{"r":"L","d":"230609","v":0.2,"m":0.19},
{"r":"L","d":"230611","v":0},{"r":"L","d":"230612","v":0.35},{"r":"L","d":"230616","v":0.25,"m":0.22},
{"r":"L","d":"230618","v":0},{"r":"L","d":"230619","v":0.35},{"r":"L","d":"230623","v":0.25,"m":0.25},
{"r":"L","d":"230625","v":0},{"r":"L","d":"230626","v":0.3},{"r":"L","d":"230630","v":0.2,"m":0.2},
{"r":"L","d":"230702","v":0},{"r":"L","d":"230703","v":0.3},{"r":"L","d":"230707","v":0.2,"m":0.19},
{"r":"L","d":"230709","v":0},{"r":"L","d":"230710","v":0.2},{"r":"L","d":"230714","v":0.12,"m":0.12},
{"r":"L","d":"230716","v":0},{"r":"L","d":"230717","v":0.15},{"r":"L","d":"230721","v":0.1,"m":0.1},
{"r":"L","d":"230723","v":0},{"r":"L","d":"230724","v":0.12},{"r":"L","d":"230728","v":0.07,"m":0.06},
{"r":"L","d":"230730","v":0},{"r":"L","d":"230731","v":0.1},{"r":"L","d":"230804","v":0.07,"m":0.06},
{"r":"L","d":"230806","v":0},{"r":"L","d":"230807","v":0.1},{"r":"L","d":"230811","v":0.07,"m":0.06},
{"r":"L","d":"230813","v":0},{"r":"L","d":"230814","v":0.12},{"r":"L","d":"230818","v":0.07,"m":0.06},
{"r":"L","d":"230820","v":0},{"r":"L","d":"230821","v":0.1},{"r":"L","d":"230825","v":0.06,"m":0.05},
{"r":"L","d":"230827","v":0},{"r":"L","d":"230828","v":0.08},{"r":"L","d":"230901","v":0.06,"m":0.04},
{"r":"L","d":"230903","v":0},{"r":"L","d":"230904","v":0.1},{"r":"L","d":"230908","v":0.05,"m":0.04},
{"r":"L","d":"230910","v":0},{"r":"L","d":"230911","v":0.08},{"r":"L","d":"230915","v":0.05,"m":0.04},
{"r":"L","d":"230917","v":0},{"r":"L","d":"230918","v":0.1},{"r":"L","d":"230922","v":0.05,"m":0.04},
{"r":"L","d":"230924","v":0},{"r":"L","d":"230925","v":0.1},{"r":"L","d":"230929","v":0.05,"m":0.04},
{"r":"L","d":"231001","v":0},{"r":"L","d":"231002","v":0.1},{"r":"L","d":"231006","v":0.06,"m":0.05},
{"r":"L","d":"231008","v":0},{"r":"L","d":"231009","v":0.2},{"r":"L","d":"231013","v":0.12,"m":0.1},
{"r":"L","d":"231015","v":0},{"r":"L","d":"231016","v":0.2},{"r":"L","d":"231020","v":0.15,"m":0.12},
{"r":"L","d":"231022","v":0},{"r":"L","d":"231023","v":0.2},{"r":"L","d":"231027","v":0.15,"m":0.12},
{"r":"L","d":"231029","v":0},{"r":"L","d":"231030","v":0.2},{"r":"L","d":"231103","v":0.15,"m":0.12},
{"r":"L","d":"231105","v":0},{"r":"L","d":"231106","v":0.2},{"r":"L","d":"231110","v":0.15,"m":0.12},
{"r":"L","d":"231112","v":0},{"r":"L","d":"231113","v":0.25},{"r":"L","d":"231117","v":0.15,"m":0.13},
{"r":"L","d":"231119","v":0},{"r":"L","d":"231120","v":0.3},{"r":"L","d":"231124","v":0.2,"m":0.19},
{"r":"L","d":"231126","v":0},{"r":"L","d":"231127","v":0.4},{"r":"L","d":"231201","v":0.3,"m":0.22},
{"r":"L","d":"231203","v":0},{"r":"L","d":"231204","v":0.4},{"r":"L","d":"231208","v":0.3,"m":0.22},
{"r":"SE","d":"221209","v":2.5,"m":3.16},
{"r":"SE","d":"221211","v":0},{"r":"SE","d":"221212","v":4.3},{"r":"SE","d":"221216","v":3.5,"m":3.0},
{"r":"SE","d":"221218","v":0},{"r":"SE","d":"221219","v":3.5},{"r":"SE","d":"221223","v":2.3,"m":1.77},
{"r":"SE","d":"221225","v":0},{"r":"SE","d":"221226","v":1.3},{"r":"SE","d":"221230","v":1.2,"m":0.84},
{"r":"SE","d":"230101","v":0},{"r":"SE","d":"230102","v":0.8},{"r":"SE","d":"230106","v":0.7,"m":0.5},
{"r":"SE","d":"230108","v":0},{"r":"SE","d":"230109","v":0.9},{"r":"SE","d":"230113","v":0.6,"m":0.5},
{"r":"SE","d":"230115","v":0},{"r":"SE","d":"230116","v":0.95},{"r":"SE","d":"230120","v":0.65,"m":0.5},
{"r":"SE","d":"230122","v":0},{"r":"SE","d":"230123","v":0.9},{"r":"SE","d":"230127","v":0.6,"m":0.5},
{"r":"SE","d":"230129","v":0},{"r":"SE","d":"230130","v":1.0},{"r":"SE","d":"230203","v":0.65,"m":0.55},
{"r":"SE","d":"230205","v":0},{"r":"SE","d":"230206","v":1.3},{"r":"SE","d":"230210","v":0.8,"m":0.65},
{"r":"SE","d":"230212","v":0},{"r":"SE","d":"230213","v":1.1},{"r":"SE","d":"230217","v":0.85,"m":0.7},
{"r":"SE","d":"230219","v":0},{"r":"SE","d":"230220","v":1.0},{"r":"SE","d":"230224","v":0.7,"m":0.6},
{"r":"SE","d":"230226","v":0},{"r":"SE","d":"230227","v":1.1},{"r":"SE","d":"230303","v":0.8,"m":0.74},
{"r":"SE","d":"230305","v":0},{"r":"SE","d":"230306","v":0.9},{"r":"SE","d":"230310","v":0.7,"m":0.65},
{"r":"SE","d":"230312","v":0},{"r":"SE","d":"230313","v":0.95},{"r":"SE","d":"230317","v":0.7,"m":0.6},
{"r":"SE","d":"230319","v":0},{"r":"SE","d":"230320","v":1.0},{"r":"SE","d":"230324","v":0.7,"m":0.65},
{"r":"SE","d":"230326","v":0},{"r":"SE","d":"230327","v":0.9},{"r":"SE","d":"230331","v":0.65,"m":0.56},
{"r":"SE","d":"230402","v":0},{"r":"SE","d":"230403","v":0.8},{"r":"SE","d":"230407","v":0.55,"m":0.47},
{"r":"SE","d":"230409","v":0},{"r":"SE","d":"230410","v":0.35},{"r":"SE","d":"230414","v":0.3,"m":0.15},
{"r":"SE","d":"230416","v":0},{"r":"SE","d":"230417","v":0.45},{"r":"SE","d":"230421","v":0.3,"m":0.22},
{"r":"SE","d":"230423","v":0},{"r":"SE","d":"230424","v":0.5},{"r":"SE","d":"230428","v":0.3,"m":0.22},
{"r":"SE","d":"230430","v":0},{"r":"SE","d":"230501","v":0.45},{"r":"SE","d":"230505","v":0.35,"m":0.22},
{"r":"SE","d":"230507","v":0},{"r":"SE","d":"230508","v":0.5},{"r":"SE","d":"230512","v":0.4,"m":0.25},
{"r":"SE","d":"230514","v":0},{"r":"SE","d":"230515","v":0.6},{"r":"SE","d":"230519","v":0.4,"m":0.28},
{"r":"SE","d":"230521","v":0},{"r":"SE","d":"230522","v":0.55},{"r":"SE","d":"230526","v":0.4,"m":0.28},
{"r":"SE","d":"230528","v":0},{"r":"SE","d":"230529","v":0.35},{"r":"SE","d":"230602","v":0.3,"m":0.2},
{"r":"SE","d":"230604","v":0},{"r":"SE","d":"230605","v":0.3},{"r":"SE","d":"230609","v":0.15,"m":0.15},
{"r":"SE","d":"230611","v":0},{"r":"SE","d":"230612","v":0.25},{"r":"SE","d":"230616","v":0.12,"m":0.1},
{"r":"SE","d":"230618","v":0},{"r":"SE","d":"230619","v":0.2},{"r":"SE","d":"230623","v":0.12,"m":0.1},
{"r":"SE","d":"230625","v":0},{"r":"SE","d":"230626","v":0.2},{"r":"SE","d":"230630","v":0.12,"m":0.1},
{"r":"SE","d":"230702","v":0},{"r":"SE","d":"230703","v":0.2},{"r":"SE","d":"230707","v":0.1,"m":0.1},
{"r":"SE","d":"230709","v":0},{"r":"SE","d":"230710","v":0.2},{"r":"SE","d":"230714","v":0.12,"m":0.1},
{"r":"SE","d":"230716","v":0},{"r":"SE","d":"230717","v":0.15},{"r":"SE","d":"230721","v":0.08,"m":0.06},
{"r":"SE","d":"230723","v":0},{"r":"SE","d":"230724","v":0.15},{"r":"SE","d":"230728","v":0.08,"m":0.06},
{"r":"SE","d":"230730","v":0},{"r":"SE","d":"230731","v":0.12},{"r":"SE","d":"230804","v":0.08,"m":0.06},
{"r":"SE","d":"230806","v":0},{"r":"SE","d":"230807","v":0.12},{"r":"SE","d":"230811","v":0.07,"m":0.06},
{"r":"SE","d":"230813","v":0},{"r":"SE","d":"230814","v":0.1},{"r":"SE","d":"230818","v":0.06,"m":0.05},
{"r":"SE","d":"230820","v":0},{"r":"SE","d":"230821","v":0.1},{"r":"SE","d":"230825","v":0.06,"m":0.05},
{"r":"SE","d":"230827","v":0},{"r":"SE","d":"230828","v":0.08},{"r":"SE","d":"230901","v":0.06,"m":0.05},
{"r":"SE","d":"230903","v":0},{"r":"SE","d":"230904","v":0.1},{"r":"SE","d":"230908","v":0.06,"m":0.06},
{"r":"SE","d":"230910","v":0},{"r":"SE","d":"230911","v":0.12},{"r":"SE","d":"230915","v":0.07,"m":0.06},
{"r":"SE","d":"230917","v":0},{"r":"SE","d":"230918","v":0.12},{"r":"SE","d":"230922","v":0.07,"m":0.06},
{"r":"SE","d":"230924","v":0},{"r":"SE","d":"230925","v":0.12},{"r":"SE","d":"230929","v":0.07,"m":0.06},
{"r":"SE","d":"231001","v":0},{"r":"SE","d":"231002","v":0.15},{"r":"SE","d":"231006","v":0.08,"m":0.07},
{"r":"SE","d":"231008","v":0},{"r":"SE","d":"231009","v":0.2},{"r":"SE","d":"231013","v":0.15,"m":0.12},
{"r":"SE","d":"231015","v":0},{"r":"SE","d":"231016","v":0.25},{"r":"SE","d":"231020","v":0.15,"m":0.13},
{"r":"SE","d":"231022","v":0},{"r":"SE","d":"231023","v":0.25},{"r":"SE","d":"231027","v":0.15,"m":0.13},
{"r":"SE","d":"231029","v":0},{"r":"SE","d":"231030","v":0.3},{"r":"SE","d":"231103","v":0.18,"m":0.14},
{"r":"SE","d":"231105","v":0},{"r":"SE","d":"231106","v":0.55},{"r":"SE","d":"231110","v":0.45,"m":0.37},
{"r":"SE","d":"231112","v":0},{"r":"SE","d":"231113","v":0.7},{"r":"SE","d":"231117","v":0.45,"m":0.37},
{"r":"SE","d":"231119","v":0},{"r":"SE","d":"231120","v":0.6},{"r":"SE","d":"231124","v":0.45,"m":0.37},
{"r":"SE","d":"231126","v":0},{"r":"SE","d":"231127","v":0.6},{"r":"SE","d":"231201","v":0.45,"m":0.37},
{"r":"SE","d":"231203","v":0},{"r":"SE","d":"231204","v":0.55},{"r":"SE","d":"231208","v":0.4,"m":0.36},
{"r":"SW","d":"221209","v":2.0,"m":3.52},
{"r":"SW","d":"221211","v":0},{"r":"SW","d":"221212","v":4.35},{"r":"SW","d":"221216","v":3.9,"m":3.2},
{"r":"SW","d":"221218","v":0},{"r":"SW","d":"221219","v":3.9},{"r":"SW","d":"221223","v":2.5,"m":2.0},
{"r":"SW","d":"221225","v":0},{"r":"SW","d":"221226","v":1.0},{"r":"SW","d":"221230","v":0.9,"m":0.72},
{"r":"SW","d":"230101","v":0},{"r":"SW","d":"230102","v":0.7},{"r":"SW","d":"230106","v":0.6,"m":0.45},
{"r":"SW","d":"230108","v":0},{"r":"SW","d":"230109","v":0.8},{"r":"SW","d":"230113","v":0.6,"m":0.5},
{"r":"SW","d":"230115","v":0},{"r":"SW","d":"230116","v":1.55},{"r":"SW","d":"230120","v":0.7,"m":0.57},
{"r":"SW","d":"230122","v":0},{"r":"SW","d":"230123","v":0.9},{"r":"SW","d":"230127","v":0.6,"m":0.48},
{"r":"SW","d":"230129","v":0},{"r":"SW","d":"230130","v":1.1},{"r":"SW","d":"230203","v":0.7,"m":0.55},
{"r":"SW","d":"230205","v":0},{"r":"SW","d":"230206","v":0.9},{"r":"SW","d":"230210","v":0.6,"m":0.53},
{"r":"SW","d":"230212","v":0},{"r":"SW","d":"230213","v":0.85},{"r":"SW","d":"230217","v":0.6,"m":0.53},
{"r":"SW","d":"230219","v":0},{"r":"SW","d":"230220","v":0.6},{"r":"SW","d":"230224","v":0.4,"m":0.34},
{"r":"SW","d":"230226","v":0},{"r":"SW","d":"230227","v":1.3},{"r":"SW","d":"230303","v":0.6,"m":0.48},
{"r":"SW","d":"230305","v":0},{"r":"SW","d":"230306","v":1.0},{"r":"SW","d":"230310","v":0.7,"m":0.6},
{"r":"SW","d":"230312","v":0},{"r":"SW","d":"230313","v":0.9},{"r":"SW","d":"230317","v":0.65,"m":0.55},
{"r":"SW","d":"230319","v":0},{"r":"SW","d":"230320","v":0.9},{"r":"SW","d":"230324","v":0.65,"m":0.56},
{"r":"SW","d":"230326","v":0},{"r":"SW","d":"230327","v":0.8},{"r":"SW","d":"230331","v":0.55,"m":0.45},
{"r":"SW","d":"230402","v":0},{"r":"SW","d":"230403","v":0.65},{"r":"SW","d":"230407","v":0.45,"m":0.35},
{"r":"SW","d":"230409","v":0},{"r":"SW","d":"230410","v":0.35},{"r":"SW","d":"230414","v":0.3,"m":0.15},
{"r":"SW","d":"230416","v":0},{"r":"SW","d":"230417","v":0.4},{"r":"SW","d":"230421","v":0.25,"m":0.19},
{"r":"SW","d":"230423","v":0},{"r":"SW","d":"230424","v":0.4},{"r":"SW","d":"230428","v":0.25,"m":0.2},
{"r":"SW","d":"230430","v":0},{"r":"SW","d":"230501","v":0.3},{"r":"SW","d":"230505","v":0.25,"m":0.18},
{"r":"SW","d":"230507","v":0},{"r":"SW","d":"230508","v":0.45},{"r":"SW","d":"230512","v":0.4,"m":0.29},
{"r":"SW","d":"230514","v":0},{"r":"SW","d":"230515","v":0.5},{"r":"SW","d":"230519","v":0.35,"m":0.29},
{"r":"SW","d":"230521","v":0},{"r":"SW","d":"230522","v":0.5},{"r":"SW","d":"230526","v":0.35,"m":0.3},
{"r":"SW","d":"230528","v":0},{"r":"SW","d":"230529","v":0.35},{"r":"SW","d":"230602","v":0.3,"m":0.25},
{"r":"SW","d":"230604","v":0},{"r":"SW","d":"230605","v":0.3},{"r":"SW","d":"230609","v":0.15,"m":0.13},
{"r":"SW","d":"230611","v":0},{"r":"SW","d":"230612","v":0.25},{"r":"SW","d":"230616","v":0.15,"m":0.13},
{"r":"SW","d":"230618","v":0},{"r":"SW","d":"230619","v":0.25},{"r":"SW","d":"230623","v":0.15,"m":0.13},
{"r":"SW","d":"230625","v":0},{"r":"SW","d":"230626","v":0.25},{"r":"SW","d":"230630","v":0.15,"m":0.12},
{"r":"SW","d":"230702","v":0},{"r":"SW","d":"230703","v":0.25},{"r":"SW","d":"230707","v":0.15,"m":0.13},
{"r":"SW","d":"230709","v":0},{"r":"SW","d":"230710","v":0.2},{"r":"SW","d":"230714","v":0.12,"m":0.1},
{"r":"SW","d":"230716","v":0},{"r":"SW","d":"230717","v":0.15},{"r":"SW","d":"230721","v":0.08,"m":0.06},
{"r":"SW","d":"230723","v":0},{"r":"SW","d":"230724","v":0.12},{"r":"SW","d":"230728","v":0.08,"m":0.06},
{"r":"SW","d":"230730","v":0},{"r":"SW","d":"230731","v":0.12},{"r":"SW","d":"230804","v":0.07,"m":0.06},
{"r":"SW","d":"230806","v":0},{"r":"SW","d":"230807","v":0.12},{"r":"SW","d":"230811","v":0.07,"m":0.06},
{"r":"SW","d":"230813","v":0},{"r":"SW","d":"230814","v":0.1},{"r":"SW","d":"230818","v":0.06,"m":0.05},
{"r":"SW","d":"230820","v":0},{"r":"SW","d":"230821","v":0.1},{"r":"SW","d":"230825","v":0.06,"m":0.05},
{"r":"SW","d":"230827","v":0},{"r":"SW","d":"230828","v":0.08},{"r":"SW","d":"230901","v":0.06,"m":0.05},
{"r":"SW","d":"230903","v":0},{"r":"SW","d":"230904","v":0.1},{"r":"SW","d":"230908","v":0.07,"m":0.06},
{"r":"SW","d":"230910","v":0},{"r":"SW","d":"230911","v":0.15},{"r":"SW","d":"230915","v":0.1,"m":0.09},
{"r":"SW","d":"230917","v":0},{"r":"SW","d":"230918","v":0.15},{"r":"SW","d":"230922","v":0.1,"m":0.1},
{"r":"SW","d":"230924","v":0},{"r":"SW","d":"230925","v":0.15},{"r":"SW","d":"230929","v":0.1,"m":0.1},
{"r":"SW","d":"231001","v":0},{"r":"SW","d":"231002","v":0.15},{"r":"SW","d":"231006","v":0.1,"m":0.1},
{"r":"SW","d":"231008","v":0},{"r":"SW","d":"231009","v":0.2},{"r":"SW","d":"231013","v":0.12,"m":0.1},
{"r":"SW","d":"231015","v":0},{"r":"SW","d":"231016","v":0.2},{"r":"SW","d":"231020","v":0.15,"m":0.12},
{"r":"SW","d":"231022","v":0},{"r":"SW","d":"231023","v":0.3},{"r":"SW","d":"231027","v":0.2,"m":0.19},
{"r":"SW","d":"231029","v":0},{"r":"SW","d":"231030","v":0.3},{"r":"SW","d":"231103","v":0.2,"m":0.19},
{"r":"SW","d":"231105","v":0},{"r":"SW","d":"231106","v":0.3},{"r":"SW","d":"231110","v":0.2,"m":0.19},
{"r":"SW","d":"231112","v":0},{"r":"SW","d":"231113","v":0.35},{"r":"SW","d":"231117","v":0.25,"m":0.2},
{"r":"SW","d":"231119","v":0},{"r":"SW","d":"231120","v":0.45},{"r":"SW","d":"231124","v":0.35,"m":0.29},
{"r":"SW","d":"231126","v":0},{"r":"SW","d":"231127","v":0.5},{"r":"SW","d":"231201","v":0.35,"m":0.3},
{"r":"SW","d":"231203","v":0},{"r":"SW","d":"231204","v":0.75},{"r":"SW","d":"231208","v":0.5,"m":0.42},
{"r":"NE","d":"221209","b":1.05},{"r":"NE","d":"221226","b":1.0},{"r":"NE","d":"230115","b":0.75},{"r":"NE","d":"230215","b":0.65},{"r":"NE","d":"230315","b":0.7},{"r":"NE","d":"230415","b":0.55},{"r":"NE","d":"230515","b":0.4},{"r":"NE","d":"230615","b":0.3},{"r":"NE","d":"230715","b":0.22},{"r":"NE","d":"230815","b":0.15},{"r":"NE","d":"230915","b":0.1},{"r":"NE","d":"231015","b":0.15},{"r":"NE","d":"231101","b":0.25},{"r":"NE","d":"231120","b":0.35},{"r":"NE","d":"231201","b":0.6},{"r":"NE","d":"231208","b":1.0},{"r":"NE","d":"231216","b":1.2},{"r":"NE","d":"231224","b":1.0},{"r":"NE","d":"240101","b":0.7},
{"r":"NW","d":"221209","b":1.45},{"r":"NW","d":"221226","b":1.2},{"r":"NW","d":"230115","b":1.0},{"r":"NW","d":"230215","b":0.9},{"r":"NW","d":"230315","b":0.8},{"r":"NW","d":"230415","b":0.65},{"r":"NW","d":"230515","b":0.5},{"r":"NW","d":"230615","b":0.3},{"r":"NW","d":"230715","b":0.2},{"r":"NW","d":"230815","b":0.15},{"r":"NW","d":"230915","b":0.15},{"r":"NW","d":"231015","b":0.2},{"r":"NW","d":"231101","b":0.3},{"r":"NW","d":"231120","b":0.45},{"r":"NW","d":"231201","b":0.75},{"r":"NW","d":"231208","b":1.1},{"r":"NW","d":"231216","b":1.55},{"r":"NW","d":"231224","b":1.4},{"r":"NW","d":"240101","b":0.85},
{"r":"YH","d":"221209","b":1.4},{"r":"YH","d":"221226","b":1.2},{"r":"YH","d":"230115","b":0.95},{"r":"YH","d":"230215","b":0.8},{"r":"YH","d":"230315","b":0.8},{"r":"YH","d":"230415","b":0.6},{"r":"YH","d":"230515","b":0.5},{"r":"YH","d":"230615","b":0.38},{"r":"YH","d":"230715","b":0.28},{"r":"YH","d":"230815","b":0.12},{"r":"YH","d":"230915","b":0.1},{"r":"YH","d":"231015","b":0.15},{"r":"YH","d":"231101","b":0.25},{"r":"YH","d":"231120","b":0.45},{"r":"YH","d":"231201","b":0.75},{"r":"YH","d":"231208","b":1.1},{"r":"YH","d":"231216","b":1.5},{"r":"YH","d":"231224","b":1.15},{"r":"YH","d":"240101","b":0.8},
{"r":"EM","d":"221209","b":1.2},{"r":"EM","d":"221226","b":1.0},{"r":"EM","d":"230115","b":0.85},{"r":"EM","d":"230215","b":0.75},{"r":"EM","d":"230315","b":0.7},{"r":"EM","d":"230415","b":0.55},{"r":"EM","d":"230515","b":0.45},{"r":"EM","d":"230615","b":0.35},{"r":"EM","d":"230715","b":0.25},{"r":"EM","d":"230815","b":0.12},{"r":"EM","d":"230915","b":0.1},{"r":"EM","d":"231015","b":0.15},{"r":"EM","d":"231101","b":0.2},{"r":"EM","d":"231120","b":0.3},{"r":"EM","d":"231201","b":0.6},{"r":"EM","d":"231208","b":0.9},{"r":"EM","d":"231216","b":1.25},{"r":"EM","d":"231224","b":1.3},{"r":"EM","d":"240101","b":0.9},
{"r":"WM","d":"221209","b":1.1},{"r":"WM","d":"221226","b":0.9},{"r":"WM","d":"230115","b":0.75},{"r":"WM","d":"230215","b":0.7},{"r":"WM","d":"230315","b":0.67},{"r":"WM","d":"230415","b":0.5},{"r":"WM","d":"230515","b":0.38},{"r":"WM","d":"230615","b":0.26},{"r":"WM","d":"230715","b":0.2},{"r":"WM","d":"230815","b":0.1},{"r":"WM","d":"230915","b":0.1},{"r":"WM","d":"231015","b":0.15},{"r":"WM","d":"231101","b":0.28},{"r":"WM","d":"231120","b":0.35},{"r":"WM","d":"231201","b":0.58},{"r":"WM","d":"231208","b":0.88},{"r":"WM","d":"231216","b":1.23},{"r":"WM","d":"231224","b":0.9},{"r":"WM","d":"240101","b":0.6},
{"r":"EE","d":"221209","b":1.2},{"r":"EE","d":"221226","b":0.9},{"r":"EE","d":"230115","b":0.6},{"r":"EE","d":"230215","b":0.65},{"r":"EE","d":"230315","b":0.65},{"r":"EE","d":"230415","b":0.5},{"r":"EE","d":"230515","b":0.4},{"r":"EE","d":"230615","b":0.3},{"r":"EE","d":"230715","b":0.22},{"r":"EE","d":"230815","b":0.12},{"r":"EE","d":"230915","b":0.1},{"r":"EE","d":"231015","b":0.15},{"r":"EE","d":"231101","b":0.25},{"r":"EE","d":"231120","b":0.35},{"r":"EE","d":"231201","b":0.7},{"r":"EE","d":"231208","b":0.95},{"r":"EE","d":"231216","b":1.25},{"r":"EE","d":"231224","b":0.95},{"r":"EE","d":"240101","b":0.6},
{"r":"L","d":"221209","b":0.92},{"r":"L","d":"221226","b":0.75},{"r":"L","d":"230115","b":0.55},{"r":"L","d":"230215","b":0.55},{"r":"L","d":"230315","b":0.6},{"r":"L","d":"230415","b":0.45},{"r":"L","d":"230515","b":0.33},{"r":"L","d":"230615","b":0.25},{"r":"L","d":"230715","b":0.18},{"r":"L","d":"230815","b":0.1},{"r":"L","d":"230915","b":0.08},{"r":"L","d":"231015","b":0.15},{"r":"L","d":"231101","b":0.22},{"r":"L","d":"231120","b":0.3},{"r":"L","d":"231201","b":0.55},{"r":"L","d":"231208","b":0.82},{"r":"L","d":"231216","b":0.95},{"r":"L","d":"231224","b":0.75},{"r":"L","d":"240101","b":0.55},
{"r":"SE","d":"221209","b":1.25},{"r":"SE","d":"221226","b":1.0},{"r":"SE","d":"230115","b":0.85},{"r":"SE","d":"230215","b":0.87},{"r":"SE","d":"230315","b":0.84},{"r":"SE","d":"230415","b":0.5},{"r":"SE","d":"230515","b":0.4},{"r":"SE","d":"230615","b":0.3},{"r":"SE","d":"230715","b":0.28},{"r":"SE","d":"230815","b":0.08},{"r":"SE","d":"230915","b":0.05},{"r":"SE","d":"231015","b":0.1},{"r":"SE","d":"231101","b":0.15},{"r":"SE","d":"231120","b":0.4},{"r":"SE","d":"231201","b":0.84},{"r":"SE","d":"231208","b":1.15},{"r":"SE","d":"231216","b":1.43},{"r":"SE","d":"231224","b":1.1},{"r":"SE","d":"240101","b":0.75},
{"r":"SW","d":"221209","b":1.3},{"r":"SW","d":"221226","b":1.05},{"r":"SW","d":"230115","b":0.85},{"r":"SW","d":"230215","b":0.8},{"r":"SW","d":"230315","b":0.72},{"r":"SW","d":"230415","b":0.58},{"r":"SW","d":"230515","b":0.45},{"r":"SW","d":"230615","b":0.35},{"r":"SW","d":"230715","b":0.28},{"r":"SW","d":"230815","b":0.12},{"r":"SW","d":"230915","b":0.1},{"r":"SW","d":"231015","b":0.15},{"r":"SW","d":"231101","b":0.3},{"r":"SW","d":"231120","b":0.4},{"r":"SW","d":"231201","b":0.9},{"r":"SW","d":"231208","b":1.2},{"r":"SW","d":"231216","b":1.4},{"r":"SW","d":"231224","b":1.2},{"r":"SW","d":"240101","b":0.75}
]},
"title":{"text":["NOTE: SCALES MAY VARY IN EACH GRAPH TO ENABLE TREND COMPARISON.","Black line is 7 day moving average adjusted for bank holidays.","Black dotted line is baseline."],"orient":"bottom","anchor":"end","align":"right","fontSize":23.8,"lineHeight":26,"offset":-3,"dx":-16},
"vconcat":[{
 "title":{"text":"(c)","orient":"left","anchor":"end","angle":0,"align":"right","baseline":"top","fontWeight":"bold","fontSize":29,"offset":29,"dy":-15},
 "vconcat":[{
  "title":{"text":"GP in-hours (combined): scarlet fever by UKHSA region 09/12/2022 to 08/12/2023","fontSize":30.3,"anchor":"middle","offset":30,"dx":-7},
  "vconcat":[{
   "title":{"text":"rate per 100,000 registered patients","orient":"left","fontSize":32,"anchor":"middle","offset":10,"dx":-16},
   "columns":3,"spacing":{"row":98,"column":45},"bounds":"flush",
   "concat":[
{"transform":[{"filter":"datum.r=='NE'"}],"encoding":{"x":{"field":"d","type":"temporal","title":null,"scale":{"domain":[{"year":2022,"month":12,"date":9},{"year":2024,"month":1,"date":4}]},"axis":null}},"layer":[
 {"transform":[{"filter":"isValid(datum.v)"}],"mark":{"type":"line","color":"#008091","strokeWidth":1.4},"encoding":{"y":{"field":"v","type":"quantitative","title":"North East","scale":{"nice":false,"zero":true}}}},
 {"transform":[{"filter":"isValid(datum.b)"}],"mark":{"type":"line","color":"black","strokeWidth":2.5,"strokeDash":[2,6]},"encoding":{"y":{"field":"b","type":"quantitative","title":"North East"}}},
 {"transform":[{"filter":"isValid(datum.m)"}],"mark":{"type":"line","color":"black","strokeWidth":2.6},"encoding":{"y":{"field":"m","type":"quantitative","title":"North East"}}}]},
{"transform":[{"filter":"datum.r=='NW'"}],"encoding":{"x":{"field":"d","type":"temporal","title":null,"scale":{"domain":[{"year":2022,"month":12,"date":9},{"year":2024,"month":1,"date":4}]},"axis":null}},"layer":[
 {"transform":[{"filter":"isValid(datum.v)"}],"mark":{"type":"line","color":"#008091","strokeWidth":1.4},"encoding":{"y":{"field":"v","type":"quantitative","title":"North West","scale":{"nice":false,"zero":true}}}},
 {"transform":[{"filter":"isValid(datum.b)"}],"mark":{"type":"line","color":"black","strokeWidth":2.5,"strokeDash":[2,6]},"encoding":{"y":{"field":"b","type":"quantitative","title":"North West"}}},
 {"transform":[{"filter":"isValid(datum.m)"}],"mark":{"type":"line","color":"black","strokeWidth":2.6},"encoding":{"y":{"field":"m","type":"quantitative","title":"North West"}}}]},
{"transform":[{"filter":"datum.r=='YH'"}],"encoding":{"x":{"field":"d","type":"temporal","title":null,"scale":{"domain":[{"year":2022,"month":12,"date":9},{"year":2024,"month":1,"date":4}]},"axis":null}},"layer":[
 {"transform":[{"filter":"isValid(datum.v)"}],"mark":{"type":"line","color":"#008091","strokeWidth":1.4},"encoding":{"y":{"field":"v","type":"quantitative","title":"Yorkshire and Humber","scale":{"nice":false,"zero":true}}}},
 {"transform":[{"filter":"isValid(datum.b)"}],"mark":{"type":"line","color":"black","strokeWidth":2.5,"strokeDash":[2,6]},"encoding":{"y":{"field":"b","type":"quantitative","title":"Yorkshire and Humber"}}},
 {"transform":[{"filter":"isValid(datum.m)"}],"mark":{"type":"line","color":"black","strokeWidth":2.6},"encoding":{"y":{"field":"m","type":"quantitative","title":"Yorkshire and Humber"}}}]},
{"transform":[{"filter":"datum.r=='EM'"}],"encoding":{"x":{"field":"d","type":"temporal","title":null,"scale":{"domain":[{"year":2022,"month":12,"date":9},{"year":2024,"month":1,"date":4}]},"axis":null}},"layer":[
 {"transform":[{"filter":"isValid(datum.v)"}],"mark":{"type":"line","color":"#008091","strokeWidth":1.4},"encoding":{"y":{"field":"v","type":"quantitative","title":"East Midlands","scale":{"nice":false,"zero":true}}}},
 {"transform":[{"filter":"isValid(datum.b)"}],"mark":{"type":"line","color":"black","strokeWidth":2.5,"strokeDash":[2,6]},"encoding":{"y":{"field":"b","type":"quantitative","title":"East Midlands"}}},
 {"transform":[{"filter":"isValid(datum.m)"}],"mark":{"type":"line","color":"black","strokeWidth":2.6},"encoding":{"y":{"field":"m","type":"quantitative","title":"East Midlands"}}}]},
{"transform":[{"filter":"datum.r=='WM'"}],"encoding":{"x":{"field":"d","type":"temporal","title":null,"scale":{"domain":[{"year":2022,"month":12,"date":9},{"year":2024,"month":1,"date":4}]},"axis":null}},"layer":[
 {"transform":[{"filter":"isValid(datum.v)"}],"mark":{"type":"line","color":"#008091","strokeWidth":1.4},"encoding":{"y":{"field":"v","type":"quantitative","title":"West Midlands","scale":{"nice":false,"zero":true}}}},
 {"transform":[{"filter":"isValid(datum.b)"}],"mark":{"type":"line","color":"black","strokeWidth":2.5,"strokeDash":[2,6]},"encoding":{"y":{"field":"b","type":"quantitative","title":"West Midlands"}}},
 {"transform":[{"filter":"isValid(datum.m)"}],"mark":{"type":"line","color":"black","strokeWidth":2.6},"encoding":{"y":{"field":"m","type":"quantitative","title":"West Midlands"}}}]},
{"transform":[{"filter":"datum.r=='EE'"}],"encoding":{"x":{"field":"d","type":"temporal","title":null,"scale":{"domain":[{"year":2022,"month":12,"date":9},{"year":2024,"month":1,"date":4}]},"axis":null}},"layer":[
 {"transform":[{"filter":"isValid(datum.v)"}],"mark":{"type":"line","color":"#008091","strokeWidth":1.4},"encoding":{"y":{"field":"v","type":"quantitative","title":"East of England","scale":{"nice":false,"zero":true}}}},
 {"transform":[{"filter":"isValid(datum.b)"}],"mark":{"type":"line","color":"black","strokeWidth":2.5,"strokeDash":[2,6]},"encoding":{"y":{"field":"b","type":"quantitative","title":"East of England"}}},
 {"transform":[{"filter":"isValid(datum.m)"}],"mark":{"type":"line","color":"black","strokeWidth":2.6},"encoding":{"y":{"field":"m","type":"quantitative","title":"East of England"}}}]},
{"transform":[{"filter":"datum.r=='L'"}],"encoding":{"x":{"field":"d","type":"temporal","title":null,"scale":{"domain":[{"year":2022,"month":12,"date":9},{"year":2024,"month":1,"date":4}]},"axis":{"values":[{"year":2023,"month":3,"date":1},{"year":2023,"month":6,"date":1},{"year":2023,"month":9,"date":1},{"year":2023,"month":12,"date":1}],"format":"%b %y"}}},"layer":[
 {"transform":[{"filter":"isValid(datum.v)"}],"mark":{"type":"line","color":"#008091","strokeWidth":1.4},"encoding":{"y":{"field":"v","type":"quantitative","title":"London","scale":{"nice":false,"zero":true}}}},
 {"transform":[{"filter":"isValid(datum.b)"}],"mark":{"type":"line","color":"black","strokeWidth":2.5,"strokeDash":[2,6]},"encoding":{"y":{"field":"b","type":"quantitative","title":"London"}}},
 {"transform":[{"filter":"isValid(datum.m)"}],"mark":{"type":"line","color":"black","strokeWidth":2.6},"encoding":{"y":{"field":"m","type":"quantitative","title":"London"}}}]},
{"transform":[{"filter":"datum.r=='SE'"}],"encoding":{"x":{"field":"d","type":"temporal","title":null,"scale":{"domain":[{"year":2022,"month":12,"date":9},{"year":2024,"month":1,"date":4}]},"axis":{"values":[{"year":2023,"month":3,"date":1},{"year":2023,"month":6,"date":1},{"year":2023,"month":9,"date":1},{"year":2023,"month":12,"date":1}],"format":"%b %y"}}},"layer":[
 {"transform":[{"filter":"isValid(datum.v)"}],"mark":{"type":"line","color":"#008091","strokeWidth":1.4},"encoding":{"y":{"field":"v","type":"quantitative","title":"South East","scale":{"nice":false,"zero":true}}}},
 {"transform":[{"filter":"isValid(datum.b)"}],"mark":{"type":"line","color":"black","strokeWidth":2.5,"strokeDash":[2,6]},"encoding":{"y":{"field":"b","type":"quantitative","title":"South East"}}},
 {"transform":[{"filter":"isValid(datum.m)"}],"mark":{"type":"line","color":"black","strokeWidth":2.6},"encoding":{"y":{"field":"m","type":"quantitative","title":"South East"}}}]},
{"transform":[{"filter":"datum.r=='SW'"}],"encoding":{"x":{"field":"d","type":"temporal","title":null,"scale":{"domain":[{"year":2022,"month":12,"date":9},{"year":2024,"month":1,"date":4}]},"axis":{"values":[{"year":2023,"month":3,"date":1},{"year":2023,"month":6,"date":1},{"year":2023,"month":9,"date":1},{"year":2023,"month":12,"date":1}],"format":"%b %y"}}},"layer":[
 {"transform":[{"filter":"isValid(datum.v)"}],"mark":{"type":"line","color":"#008091","strokeWidth":1.4},"encoding":{"y":{"field":"v","type":"quantitative","title":"South West","scale":{"nice":false,"zero":true}}}},
 {"transform":[{"filter":"isValid(datum.b)"}],"mark":{"type":"line","color":"black","strokeWidth":2.5,"strokeDash":[2,6]},"encoding":{"y":{"field":"b","type":"quantitative","title":"South West"}}},
 {"transform":[{"filter":"isValid(datum.m)"}],"mark":{"type":"line","color":"black","strokeWidth":2.6},"encoding":{"y":{"field":"m","type":"quantitative","title":"South West"}}}]}
   ]
  }]
 }]
}]}
